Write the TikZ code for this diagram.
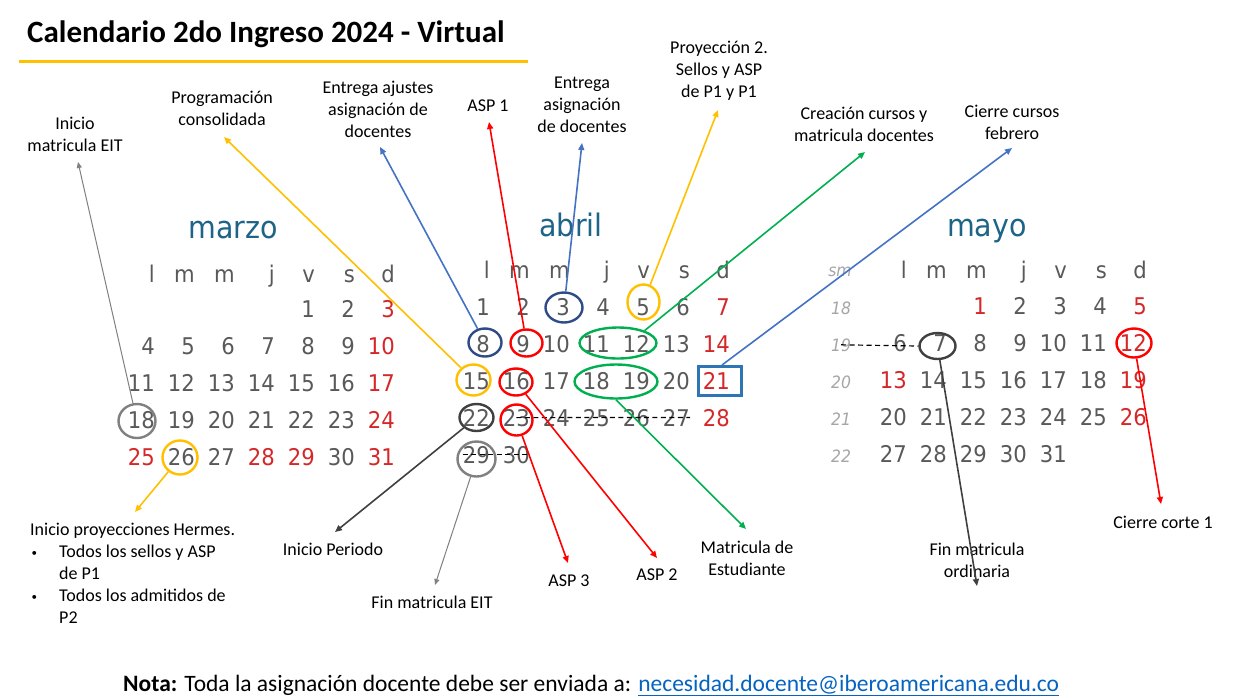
\documentclass[tikz,border=0pt]{standalone}
\usepackage{fontspec}
\setmainfont{Carlito}
\newfontfamily\calfont[FakeStretch=0.92]{DejaVu Sans}
\usetikzlibrary{arrows.meta,shapes.geometric}
\definecolor{numgrey}{RGB}{89,89,89}
\definecolor{redday}{RGB}{214,39,40}
\definecolor{monthblue}{RGB}{30,100,135}
\definecolor{amber}{RGB}{255,192,0}
\definecolor{navy}{RGB}{47,75,135}
\definecolor{pred}{RGB}{255,0,0}
\definecolor{pgreen}{RGB}{0,176,80}
\definecolor{sqblue}{RGB}{46,117,182}
\definecolor{lineblue}{RGB}{68,114,196}
\definecolor{darkg}{RGB}{64,64,64}
\definecolor{midg}{RGB}{128,128,128}
\definecolor{wkgrey}{RGB}{166,166,166}
\definecolor{linkblue}{RGB}{5,99,193}
\makeatletter
\newcommand\pickclr[2]{\edef\tmp@pk{\noexpand\in@{,#1,}{,#2,}}\tmp@pk
  \ifin@\def\clr{redday}\else\def\clr{numgrey}\fi}
\makeatother
\newcommand\smallbul{\makebox[29pt][l]{\hspace*{1.5pt}\raisebox{1.5pt}{\fontsize{11}{11}\selectfont•}}}
\begin{document}
\begin{tikzpicture}[x=1pt,y=-1pt,
  day/.style={anchor=base east,inner sep=0pt,text=numgrey,font=\calfont\fontsize{23}{23}\selectfont},
  wk/.style={anchor=base,inner sep=0pt,text=wkgrey,font=\calfont\itshape\fontsize{17}{17}\selectfont},
  month/.style={anchor=base,inner sep=0pt,text=monthblue,font=\calfont\fontsize{31}{31}\selectfont},
  lab/.style={align=center,inner sep=0pt,font=\fontsize{18}{22}\selectfont},
  ring/.style={ellipse,draw,line width=2.4pt,inner sep=0pt},
  arr/.style={line width=1.6pt,-{Triangle[length=7pt,width=6pt]}},
  thinarr/.style={line width=1pt,-{Triangle[length=6pt,width=5pt]}},
  strike/.style={draw=black,line width=1.2pt,dash pattern=on 5pt off 3.5pt}]

\useasboundingbox (0,0) rectangle (1242,697);
\fill[white] (0,0) rectangle (1242,697);

% title
\node[anchor=base west,inner sep=0pt,font=\bfseries\fontsize{31}{31}\selectfont] (title) at (27,42) {Calendario 2do Ingreso 2024 - Virtual};
\draw[amber,line width=3pt] (19,61) -- (528,61);

% month titles
\node[month] (tmar) at (233,238) {marzo};
\node[month] (tabr) at (571,236) {abril};
\node[month] (tmay) at (987,236) {mayo};

% headers
\foreach \ltr [count=\i from 0] in {l,m,m,j,v,s,d}{
  \node[day] (marh\i) at ({155+40*\i},282) {\ltr};
  \node[day] (abrh\i) at ({490+40*\i},278) {\ltr};
  \node[day] (mayh\i) at ({907+40*\i},278) {\ltr};
}
\node[wk] (wksm) at (840,276) {sm};
\foreach \w [count=\r from 0] in {18,19,20,21,22}{
  \node[wk] (wk\w) at (841,{314+37*\r}) {\w};
}

% marzo (1 = viernes)
\foreach \d in {1,...,31}{
  \pgfmathtruncatemacro\idx{\d+3}
  \pgfmathtruncatemacro\cc{mod(\idx,7)}
  \pgfmathtruncatemacro\rr{div(\idx,7)}
  \pickclr{\d}{3,10,17,24,25,28,29,31}
  \node[day,text=\clr] (mar\d) at ({155+40*\cc},{317+37*\rr}) {\d};
}
% abril (1 = lunes)
\foreach \d in {1,...,30}{
  \pgfmathtruncatemacro\idx{\d-1}
  \pgfmathtruncatemacro\cc{mod(\idx,7)}
  \pgfmathtruncatemacro\rr{div(\idx,7)}
  \pickclr{\d}{7,14,21,28}
  \node[day,text=\clr] (apr\d) at ({490+40*\cc},{315+37*\rr}) {\d};
}
% mayo (1 = miercoles)
\foreach \d in {1,...,31}{
  \pgfmathtruncatemacro\idx{\d+1}
  \pgfmathtruncatemacro\cc{mod(\idx,7)}
  \pgfmathtruncatemacro\rr{div(\idx,7)}
  \pickclr{\d}{1,5,12,13,19,26}
  \node[day,text=\clr] (may\d) at ({907+40*\cc},{314+37*\rr}) {\d};
}

% dashed strike lines
\draw[strike] (apr23.center) -- (apr27.east);
\draw[strike] (apr29.west) -- (apr30.east);

% circles
\node[ring,draw=midg,minimum width=37pt,minimum height=34pt] (cm18) at (137,421) {};
\node[ring,draw=amber,minimum width=35pt,minimum height=34pt] (cm26) at (180,457.5) {};
\node[ring,draw=navy,minimum width=37pt,minimum height=30pt] (ca3) at (564,307.5) {};
\node[ring,draw=amber,minimum width=32pt,minimum height=35pt] (ca5) at (643.5,302) {};
\node[ring,draw=navy,minimum width=33pt,minimum height=28pt] (ca8) at (485,342.5) {};
\node[ring,draw=pred,minimum width=32pt,minimum height=27pt] (ca9) at (526.5,343) {};
\node[ring,draw=pgreen,minimum width=77pt,minimum height=31pt] (e1112) at (618,343) {};
\node[ring,draw=amber,minimum width=34pt,minimum height=31pt] (ca15) at (473.5,380) {};
\node[ring,draw=pred,minimum width=33pt,minimum height=27pt] (ca16) at (516,382) {};
\node[ring,draw=pgreen,minimum width=83pt,minimum height=34pt] (e1819) at (616,381.5) {};
\node[draw=sqblue,line width=3pt,inner sep=0pt,minimum width=43pt,minimum height=29pt] (sq21) at (720,381) {};
\node[ring,draw=darkg,minimum width=34pt,minimum height=27pt] (ca22) at (476.5,417.5) {};
\node[ring,draw=pred,minimum width=32pt,minimum height=31pt] (ca23) at (516.5,420) {};
\node[ring,draw=midg,minimum width=38pt,minimum height=35pt] (ca29) at (476.5,459) {};
\node[ring,draw=darkg,minimum width=36pt,minimum height=26pt] (cy7) at (937.5,346) {};
\node[ring,draw=pred,minimum width=35pt,minimum height=29pt] (cy12) at (1134,343) {};

\draw[strike] (wk19.center) -- (cy7.west);

% labels
\node[lab] (L1) at (75,134) {Inicio\\matricula EIT};
\node[lab] (L2) at (222,108.5) {Programación\\consolidada};
\node[lab] (L3) at (378,109) {Entrega ajustes\\asignación de\\docentes};
\node[lab] (L4) at (488,106) {ASP 1};
\node[lab] (L5) at (582,105) {Entrega\\asignación\\de docentes};
\node[lab] (L6) at (719,70.5) {Proyección 2.\\Sellos y ASP\\de P1 y P1};
\node[lab] (L7) at (864,124.5) {Creación cursos y\\matricula docentes};
\node[lab] (L8) at (1012,122) {Cierre cursos\\febrero};
\node[lab,align=left,anchor=west] (L9) at (30,573.5) {Inicio proyecciones Hermes.\\\smallbul Todos los sellos y ASP\\\hspace*{29pt}de P1\\\smallbul Todos los admitidos de\\\hspace*{29pt}P2};
\node[lab] (L10) at (333,549) {Inicio Periodo};
\node[lab] (L11) at (432,602) {Fin matricula EIT};
\node[lab] (L12) at (569,581) {ASP 3};
\node[lab] (L13) at (657,574.5) {ASP 2};
\node[lab] (L14) at (747,558) {Matricula de\\Estudiante};
\node[lab] (L15) at (977,560.5) {Fin matricula\\ordinaria};
\node[lab] (L16) at (1163,522.5) {Cierre corte 1};

% arrow end points
\coordinate (t1) at (78,162);
\coordinate (t2) at (224,137);
\coordinate (t3) at (380,147);
\coordinate (t4) at (489,122);
\coordinate (t5) at (582,143);
\coordinate (t6) at (718,110);
\coordinate (t7) at (865,152);
\coordinate (t8) at (1012,148);
\coordinate (t9) at (135,512);
\coordinate (t10) at (335,532);
\coordinate (t11) at (435,585);
\coordinate (t12) at (568,563);
\coordinate (t13) at (657,558);
\coordinate (t14) at (746,529);
\coordinate (t15) at (977,586);
\coordinate (t16) at (1161,504);

% connectors
\draw[thinarr,midg] (cm18) -- (t1);
\draw[arr,amber] (ca15) -- (t2);
\draw[arr,lineblue] (ca8) -- (t3);
\draw[arr,pred] (ca9) -- (t4);
\draw[arr,lineblue] (ca3) -- (t5);
\draw[arr,amber] (ca5) -- (t6);
\draw[arr,pgreen] (e1112.25) -- (t7);
\draw[arr,lineblue] ([xshift=2pt]sq21.north) -- (t8);
\draw[arr,amber] (cm26) -- (t9);
\draw[arr,darkg] (ca22) -- (t10);
\draw[thinarr,midg] (ca29) -- (t11);
\draw[arr,pred] (ca23) -- (t12);
\draw[arr,pred] (ca16) -- (t13);
\draw[arr,pgreen] (e1819.south) -- (t14);
\draw[arr,darkg] (cy7) -- (t15);
\draw[arr,pred] (cy12) -- (t16);

% footer
\node[anchor=base west,inner sep=0pt,font=\fontsize{23.5}{23.5}\selectfont] (foot) at (123,691) {\textbf{Nota:} Toda la asignación docente debe ser enviada a: \textcolor{linkblue}{\underline{necesidad.docente@iberoamericana.edu.co}}};
\end{tikzpicture}
\end{document}
